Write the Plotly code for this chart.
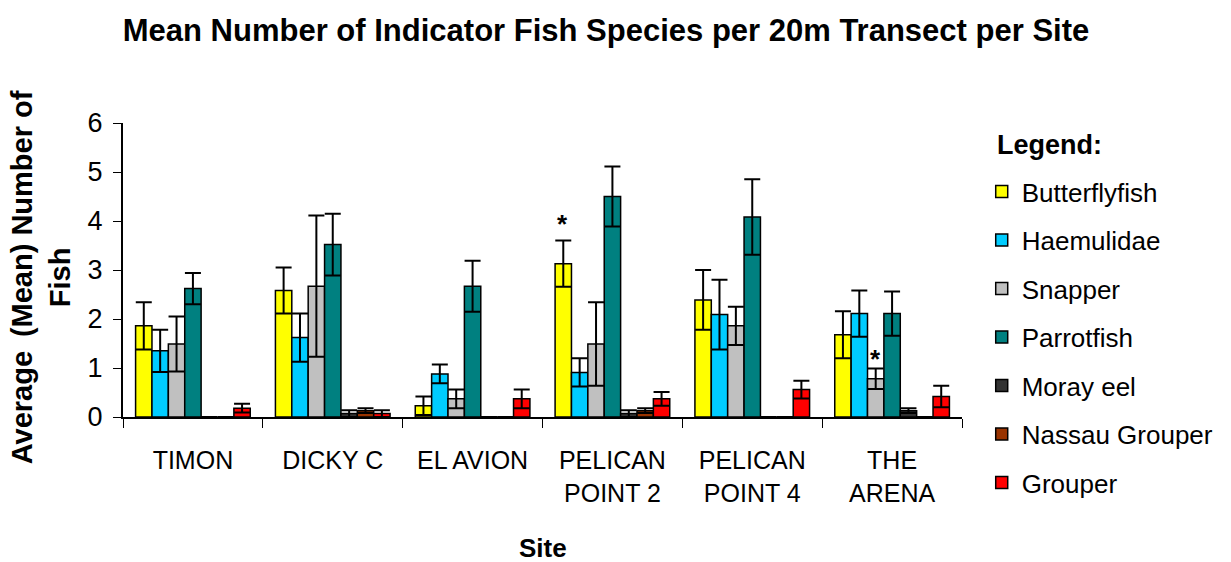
import plotly.graph_objects as go

sites = ["TIMON", "DICKY C", "EL AVION", "PELICAN<br>POINT 2", "PELICAN<br>POINT 4", "THE<br>ARENA"]

butterflyfish = [1.86, 2.58, 0.23, 3.13, 2.39, 1.68]
butterflyfish_err = [0.48, 0.47, 0.19, 0.47, 0.61, 0.48]
haemulidae = [1.35, 1.62, 0.88, 0.91, 2.09, 2.11]
haemulidae_err = [0.43, 0.49, 0.19, 0.29, 0.71, 0.47]
snapper = [1.49, 2.67, 0.37, 1.49, 1.86, 0.78]
snapper_err = [0.56, 1.44, 0.19, 0.85, 0.39, 0.21]
parrotfish = [2.62, 3.52, 2.67, 4.50, 4.08, 2.11]
parrotfish_err = [0.32, 0.63, 0.52, 0.61, 0.77, 0.45]
moray_eel = [0, 0.07, 0, 0.07, 0, 0.13]
moray_eel_err = [0, 0.07, 0, 0.07, 0, 0.05]
nassau_grouper = [0, 0.13, 0, 0.13, 0, 0]
nassau_grouper_err = [0, 0.05, 0, 0.05, 0, 0]
grouper = [0.18, 0.07, 0.37, 0.37, 0.56, 0.42]
grouper_err = [0.09, 0.07, 0.19, 0.14, 0.18, 0.22]

species = [
    ("Butterflyfish", butterflyfish, butterflyfish_err, "#FFFF00"),
    ("Haemulidae", haemulidae, haemulidae_err, "#00CCFF"),
    ("Snapper", snapper, snapper_err, "#C0C0C0"),
    ("Parrotfish", parrotfish, parrotfish_err, "#008080"),
    ("Moray eel", moray_eel, moray_eel_err, "#333333"),
    ("Nassau Grouper", nassau_grouper, nassau_grouper_err, "#993300"),
    ("Grouper", grouper, grouper_err, "#FF0000"),
]

# significance markers: (site index, species index, height of the star)
stars = [(3, 0, 4.07), (5, 2, 1.31)]

FONT = "Liberation Sans, Arial, sans-serif"
L, R, T, B = 123, 256, 123, 145
W, H = 1231, 562
BARGAP = 0.18

fig = go.Figure()
for i, (name, vals, errs, color) in enumerate(species):
    fig.add_trace(go.Bar(
        x=sites, y=vals, name=name, legendgroup=name,
        marker=dict(color=color, line=dict(color="black", width=1.5)),
        error_y=dict(type="data", array=errs, visible=True,
                     color="black", thickness=2, width=8),
    ))

# pixel offset of a bar inside its group
plot_w = W - L - R
plot_h = H - T - B
bar_w = plot_w / len(sites) * (1 - BARGAP) / len(species)
for si, sp, sy in stars:
    fig.add_annotation(
        x=sites[si], y=sy, yref="y", xref="x",
        text="<b>*</b>", showarrow=False, yanchor="middle",
        xshift=(sp - (len(species) - 1) / 2) * bar_w, yshift=-6,
        font=dict(size=26, color="black", family=FONT),
    )

fig.add_annotation(
    text="<b>Average \u2009(Mean) Number of<br>Fish</b>", textangle=-90,
    xref="paper", yref="paper", x=(40 - L) / plot_w, y=0.476,
    xanchor="center", yanchor="middle", showarrow=False,
    font=dict(size=29, color="black", family=FONT),
)
fig.add_annotation(
    text="<b>Site</b>", xref="paper", yref="paper", x=0.5,
    y=-(548 - 417) / plot_h, xanchor="center", yanchor="middle",
    showarrow=False, borderpad=0,
    font=dict(size=26, color="black", family=FONT),
)
fig.add_annotation(
    text="<b>Legend:</b>", xref="paper", yref="paper",
    x=(1009 - L) / plot_w, y=1 - (145 - T) / plot_h,
    xanchor="left", yanchor="middle", showarrow=False,
    font=dict(size=27, color="black", family=FONT),
)

fig.update_layout(
    width=W, height=H,
    margin=dict(l=L, r=R, t=T, b=B),
    barmode="group", bargap=BARGAP, bargroupgap=0,
    plot_bgcolor="white", paper_bgcolor="white",
    font=dict(family=FONT, color="black", size=25),
    title=dict(
        text="<b>Mean Number of Indicator Fish Species per 20m Transect per Site</b>",
        x=606 / W, xanchor="center", y=1 - 30 / H, yanchor="middle",
        font=dict(size=31, color="black", family=FONT),
    ),
    legend=dict(
        x=1.0235, xanchor="left", y=0.847, yanchor="top",
        font=dict(size=26), tracegroupgap=11.7, traceorder="grouped",
        maxheight=420,
    ),
    xaxis=dict(
        showline=True, linecolor="black", linewidth=2,
        ticks="outside", tickson="boundaries", ticklen=9, tickcolor="black",
        tickfont=dict(size=25), ticklabelstandoff=20,
    ),
    yaxis=dict(
        range=[0, 6], dtick=1, showgrid=False, zeroline=False,
        showline=True, linecolor="black", linewidth=2,
        ticks="outside", ticklen=8, tickcolor="black",
        tickfont=dict(size=27), ticklabelstandoff=5,
    ),
)

fig.write_html("out.html", config={"displayModeBar": False},
               post_script="document.body.style.margin='0';")
